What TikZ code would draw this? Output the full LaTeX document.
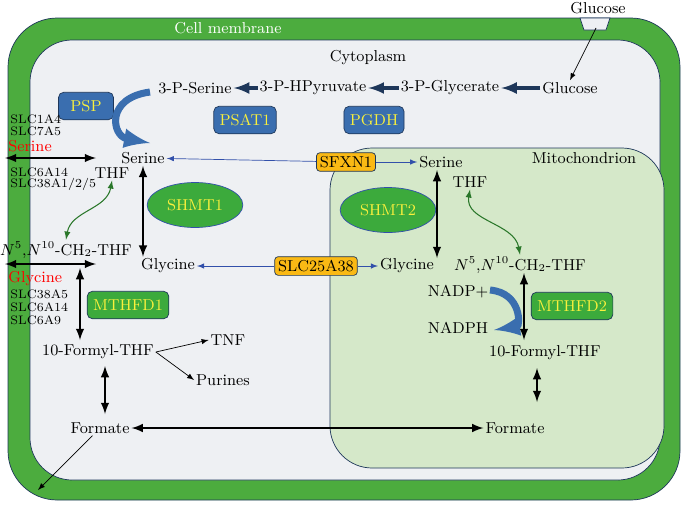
\documentclass[tikz,border=0pt]{standalone}
\usepackage{tikz}
\usetikzlibrary{positioning, arrows, shapes}
\definecolor{membrana}{RGB}{76, 172, 62}
\definecolor{citosol}{RGB}{238, 240, 243}
\definecolor{mito}{RGB}{213, 232, 201}
\definecolor{azul}{RGB}{58, 110, 175}
\definecolor{marino}{RGB}{30, 55, 90}
\definecolor{amarillo}{RGB}{250, 240, 60}
\definecolor{naranja}{RGB}{250, 185, 20}
\definecolor{verde}{RGB}{60, 170, 60}
\definecolor{flecha}{RGB}{50, 80, 170}
\tikzset{
    met/.style={font=\small, inner sep=1pt},
    slc/.style={font=\scriptsize, inner sep=0pt, anchor=west},
    enz/.style={draw=marino, rounded corners=3pt, fill=azul, text=amarillo, minimum width=1.1cm, minimum height=0.55cm, font=\small},
    genz/.style={draw=marino, rounded corners=3pt, fill=verde, text=amarillo, minimum width=1.3cm, minimum height=0.55cm, font=\small},
    gell/.style={draw=flecha, ellipse, fill=verde, text=amarillo, minimum width=1.7cm, minimum height=0.9cm, font=\small},
    trans/.style={draw=marino, rounded corners=2pt, fill=naranja, inner sep=2pt, font=\small},
    dbl/.style={latex-latex, very thick},
    blu/.style={-latex, flecha, thin},
    big/.style={-latex, marino, line width=2pt},
    curv/.style={latex-latex, verde!70!black, semithick},
    curvo/.style={azul, line width=4pt, -latex},
}
\begin{document}
\begin{tikzpicture}[x=0.02cm, y=-0.02cm]
    \useasboundingbox (0,0) rectangle (685,504);
    % cell and compartments
    \filldraw[fill=membrana, draw=marino, rounded corners=28pt] (8,18) rectangle (680,500);
    \filldraw[fill=citosol, draw=marino, rounded corners=24pt] (30,40) rectangle (660,480);
    \filldraw[fill=mito, draw=marino, rounded corners=24pt] (330,148) rectangle (664,468);
    \node[text=white, font=\small] (memb) at (228,28) {Cell membrane};
    \node[font=\small] (cyto) at (368,58) {Cytoplasm};
    \node[font=\small] (mitoL) at (584,158) {Mitochondrion};
    \node[met] (gluOut) at (598,8) {Glucose};
    \draw[fill=citosol, draw=marino] (580,18) -- (610,18) -- (606,30) -- (584,30) -- cycle;
    \coordinate (port) at (596,28);

    % glycolysis branch
    \node[met] (glu) at (570,88) {Glucose};
    \node[met] (pg) at (450,88) {3-P-Glycerate};
    \node[met] (php) at (313,88) {3-P-HPyruvate};
    \node[met] (ps) at (195,88) {3-P-Serine};
    \node[enz] (psp) at (86,106) {PSP};
    \node[enz] (psat) at (245,120) {PSAT1};
    \node[enz] (pgdh) at (374,120) {PGDH};
    \draw[-latex] (port) -- (glu.north);
    \draw[big] (glu) -- (pg);
    \draw[big] (pg) -- (php);
    \draw[big] (php) -- (ps);

    % cytosol
    \node[met] (ser) at (143,158) {Serine};
    \node[met] (thf) at (112,173) {THF};
    \node[gell] (shmt1) at (195,205) {SHMT1};
    \node[met] (ch2) at (66,250) {$N^5$,$N^{10}$-CH$_2$-THF};
    \node[met] (gly) at (168,266) {Glycine};
    \node[genz] (mthfd1) at (128,305) {MTHFD1};
    \node[met] (fthf) at (98,352) {10-Formyl-THF};
    \node[met] (tnf) at (228,340) {TNF};
    \node[met] (pur) at (223,380) {Purines};
    \node[met] (form) at (100,428) {Formate};
    \draw[curvo] (150,92) .. controls (105,98) and (112,136) .. (150,143);
    \draw[dbl] (ser) -- (ser |- gly.north);
    \draw[curv] (thf.south) to[out=-100, in=80] (ch2.north);
    \draw[-latex] (fthf.east) -- (tnf.west);
    \draw[-latex] (fthf.east) -- (pur.west);
    \draw[dbl] (80,268) -- (80,340);
    \draw[dbl] (105,366) -- (105,414);

    % transporters at membrane
    \coordinate (serL) at (5,158);
    \coordinate (serR) at (96,158);
    \coordinate (glyL) at (5,264);
    \coordinate (glyR) at (96,264);
    \coordinate (formOut) at (38,490);
    \draw[dbl] (serL) -- (serR);
    \draw[dbl] (glyL) -- (glyR);
    \draw[-latex] (form) -- (formOut);
    \node[slc] (s1) at (10,119) {SLC1A4};
    \node[slc] (s2) at (10,131) {SLC7A5};
    \node[slc, text=red, font=\small] (s3) at (8,146) {Serine};
    \node[slc] (s4) at (10,172) {SLC6A14};
    \node[slc] (s5) at (10,184) {SLC38A1/2/5};
    \node[slc, text=red, font=\small] (g1) at (8,279) {Glycine};
    \node[slc] (g2) at (10,294) {SLC38A5};
    \node[slc] (g3) at (10,307) {SLC6A14};
    \node[slc] (g4) at (10,320) {SLC6A9};

    % mitochondrial carriers
    \node[trans] (sfxn) at (346,162) {SFXN1};
    \node[trans] (slc25) at (316,266) {SLC25A38};

    % mitochondrion
    \node[met] (mser) at (441,162) {Serine};
    \node[met] (mthf) at (470,182) {THF};
    \node[gell] (shmt2) at (388,210) {SHMT2};
    \node[met] (mgly) at (407,266) {Glycine};
    \node[met] (mch2) at (520,265) {$N^5$,$N^{10}$-CH$_2$-THF};
    \node[met] (nadp) at (458,292) {NADP+};
    \node[met] (nadph) at (458,328) {NADPH};
    \node[genz] (mthfd2) at (572,306) {MTHFD2};
    \node[met] (mfthf) at (545,353) {10-Formyl-THF};
    \node[met] (mform) at (515,428) {Formate};
    \draw[blu] (sfxn) -- (ser);
    \draw[blu] (sfxn) -- (mser);
    \draw[blu] (slc25) -- (gly);
    \draw[blu] (slc25) -- (mgly);
    \draw[dbl] (437,170) -- (437,258);
    \draw[curv] (mthf.south) to[out=-100, in=100] (mch2.north);
    \draw[curvo] (490,290) .. controls (522,293) and (520,326) .. (494,330);
    \draw[dbl] (524,273) -- (524,340);
    \draw[dbl] (537,368) -- (537,402);
    \draw[dbl] (form) -- (mform);
\end{tikzpicture}
\end{document}
